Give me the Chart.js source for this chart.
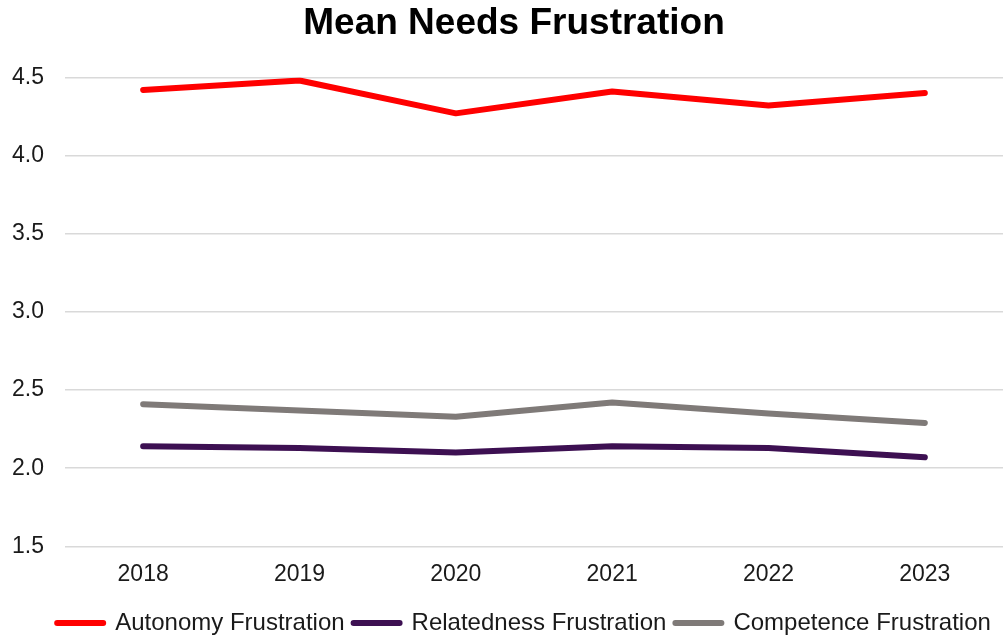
<!DOCTYPE html>
<html>
<head>
<meta charset="utf-8">
<script src="https://cdn.jsdelivr.net/npm/chart.js@4/dist/chart.umd.min.js"></script>
<style>
  html, body { margin: 0; padding: 0; background: #fff; overflow: hidden; }
  #wrap { width: 1003px; height: 638px; position: relative; }
</style>
</head>
<body>
<div id="wrap"><canvas id="c"></canvas></div>
<script>
const years = ['2018', '2019', '2020', '2021', '2022', '2023'];
const autonomy = [4.42, 4.48, 4.27, 4.41, 4.32, 4.40];
const relatedness = [2.14, 2.13, 2.10, 2.14, 2.13, 2.07];
const competence = [2.41, 2.37, 2.33, 2.42, 2.35, 2.29];
const yTicks = [1.5, 2.0, 2.5, 3.0, 3.5, 4.0, 4.5];

const FONT = "'Liberation Sans', Arial, sans-serif";

function series(label, data, color) {
  return {
    label, data,
    borderColor: color,
    backgroundColor: color,
    borderWidth: 6,
    borderCapStyle: 'round',
    borderJoinStyle: 'round',
    pointRadius: 0,
    pointHoverRadius: 0,
    tension: 0,
    fill: false
  };
}

// Nudges the title and legend blocks sideways after layout
const blockShift = {
  id: 'blockShift',
  afterLayout(chart, args, opts) {
    if (chart.titleBlock) { chart.titleBlock.left += opts.title; chart.titleBlock.right += opts.title; }
    if (chart.legend) { chart.legend.left += opts.legend; chart.legend.right += opts.legend; }
  }
};

new Chart(document.getElementById('c'), {
  type: 'line',
  data: {
    labels: years,
    datasets: [
      series('Autonomy Frustration', autonomy, '#ff0000'),
      series('Relatedness Frustration', relatedness, '#3d1052'),
      series('Competence Frustration', competence, '#7f7a78')
    ]
  },
  plugins: [blockShift],
  options: {
    responsive: true,
    maintainAspectRatio: false,
    animation: false,
    layout: { padding: { left: -9, right: -2, top: 0, bottom: -7 } },
    plugins: {
      tooltip: { enabled: false },
      blockShift: { title: 16, legend: 26 },
      title: {
        display: true,
        text: 'Mean Needs Frustration',
        color: '#000',
        font: { family: FONT, size: 37, weight: 'bold' },
        padding: { top: 2, bottom: 31 }
      },
      legend: {
        position: 'bottom',
        labels: {
          usePointStyle: true,
          pointStyle: 'line',
          pointStyleWidth: 46,
          color: '#1a1a1a',
          font: { family: FONT, size: 24 },
          padding: 9,
          generateLabels(chart) {
            return chart.data.datasets.map((ds, i) => ({
              text: ds.label,
              datasetIndex: i,
              strokeStyle: ds.borderColor,
              fillStyle: ds.borderColor,
              fontColor: '#1a1a1a',
              lineWidth: ds.borderWidth,
              lineCap: 'round',
              pointStyle: 'line',
              hidden: !chart.isDatasetVisible(i)
            }));
          }
        }
      }
    },
    scales: {
      x: {
        offset: true,
        grid: { display: false, drawTicks: false },
        border: { display: false },
        ticks: {
          color: '#1a1a1a',
          font: { family: FONT, size: 23 },
          padding: 14
        }
      },
      y: {
        min: yTicks[0],
        max: yTicks[yTicks.length - 1],
        afterBuildTicks: (axis) => { axis.ticks = yTicks.map(v => ({ value: v })); },
        grid: { color: '#d9d9d9', lineWidth: 1.5, drawTicks: false },
        border: { display: false },
        ticks: {
          color: '#1a1a1a',
          font: { family: FONT, size: 23 },
          padding: 21,
          callback: (v) => Number(v).toFixed(1)
        }
      }
    }
  }
});
</script>
</body>
</html>
